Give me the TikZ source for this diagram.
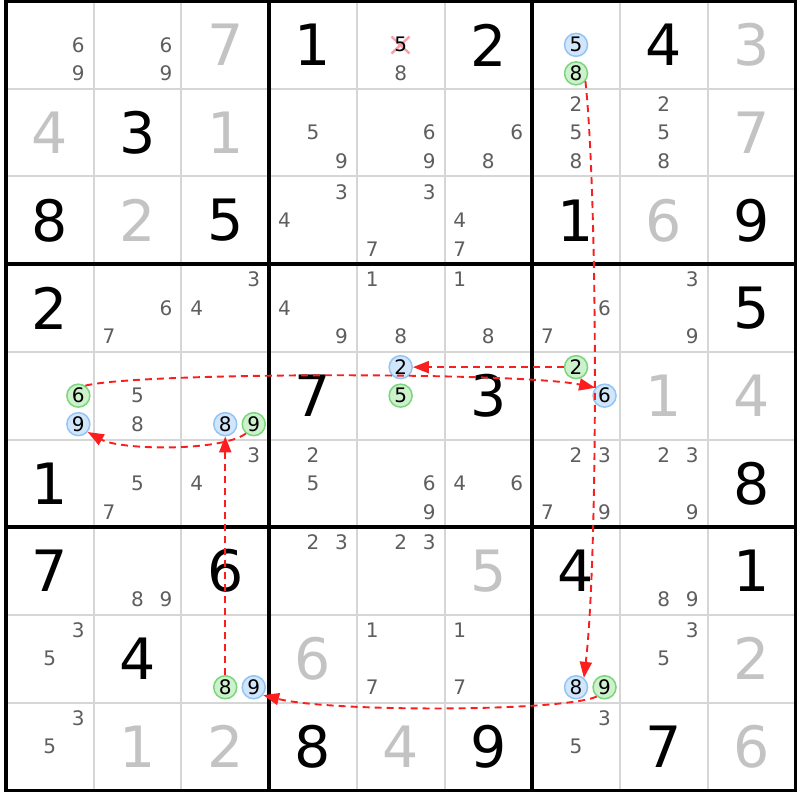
\documentclass[tikz,border=0pt]{standalone}
\usepackage{fontspec}
\setmainfont{DejaVu Sans}
\usetikzlibrary{arrows.meta}
\definecolor{solid}{HTML}{000000}
\definecolor{pale}{HTML}{C3C3C3}
\definecolor{candgray}{HTML}{5E5E5E}
\definecolor{gridgray}{HTML}{D6D6D6}
\definecolor{linkred}{HTML}{FA1E1E}
\definecolor{bluefill}{HTML}{D2E6FB}
\definecolor{blueline}{HTML}{92C4F4}
\definecolor{greenfill}{HTML}{CDF0CD}
\definecolor{greenline}{HTML}{7AD67A}
\definecolor{xpink}{HTML}{F4A3AC}
\tikzset{
  thinline/.style={draw=gridgray, line width=2pt},
  thickline/.style={draw=black, line width=3.5pt},
  bigdig/.style={inner sep=0pt, font=\fontsize{57}{57}\selectfont},
  cand/.style={inner sep=0pt, text=candgray, font=\fontsize{20}{20}\selectfont},
  circ/.style={circle, inner sep=0pt, minimum size=23pt, line width=1.5pt, text=black, font=\fontsize{20}{20}\selectfont},
  link/.style={draw=linkred, line width=1.9pt, dash pattern=on 7pt off 5pt, -{Triangle[length=16pt,width=12pt]}}
}
\begin{document}
\begin{tikzpicture}[x=1pt,y=-1pt]
\useasboundingbox (0,0) rectangle (800,800);
\fill[white] (0,0) rectangle (800,800);
% thin grid
\foreach \i in {1,2,4,5,7,8} {
  \draw[thinline] ({6+\i*87.7},1) -- ({6+\i*87.7},790.3);
  \draw[thinline] (6,{1+\i*87.7}) -- (795.3,{1+\i*87.7});
}
% thick grid
\foreach \i in {3,6} {
  \draw[thickline] ({6+\i*87.7},1) -- ({6+\i*87.7},790.3);
  \draw[thickline] (6,{1+\i*87.7}) -- (795.3,{1+\i*87.7});
}
\draw[thickline] (6,1) rectangle (795.3,790.3);
% given / solved digits
\foreach \r/\c/\d/\k in {
  1/3/7/pale, 1/4/1/solid, 1/6/2/solid, 1/8/4/solid, 1/9/3/pale,
  2/1/4/pale, 2/2/3/solid, 2/3/1/pale, 2/9/7/pale,
  3/1/8/solid, 3/2/2/pale, 3/3/5/solid, 3/7/1/solid, 3/8/6/pale, 3/9/9/solid,
  4/1/2/solid, 4/9/5/solid,
  5/4/7/solid, 5/6/3/solid, 5/8/1/pale, 5/9/4/pale,
  6/1/1/solid, 6/9/8/solid,
  7/1/7/solid, 7/3/6/solid, 7/6/5/pale, 7/7/4/solid, 7/9/1/solid,
  8/2/4/solid, 8/4/6/pale, 8/9/2/pale,
  9/2/1/pale, 9/3/2/pale, 9/4/8/solid, 9/5/4/pale, 9/6/9/solid, 9/8/7/solid, 9/9/6/pale} {
  \pgfmathsetmacro\px{6+(\c-0.5)*87.7}
  \pgfmathsetmacro\py{1+(\r-0.5)*87.7}
  \node[bigdig, text=\k] (g-\r-\c) at (\px,\py) {\d};
}
% pencil marks
\foreach \r/\c/\d in {
  1/1/6, 1/1/9, 1/2/6, 1/2/9, 1/5/8,
  2/4/5, 2/4/9, 2/5/6, 2/5/9, 2/6/6, 2/6/8, 2/7/2, 2/7/5, 2/7/8, 2/8/2, 2/8/5, 2/8/8,
  3/4/3, 3/4/4, 3/5/3, 3/5/7, 3/6/4, 3/6/7,
  4/2/6, 4/2/7, 4/3/3, 4/3/4, 4/4/4, 4/4/9, 4/5/1, 4/5/8, 4/6/1, 4/6/8, 4/7/6, 4/7/7, 4/8/3, 4/8/9,
  5/2/5, 5/2/8,
  6/2/5, 6/2/7, 6/3/3, 6/3/4, 6/4/2, 6/4/5, 6/5/6, 6/5/9, 6/6/4, 6/6/6, 6/7/2, 6/7/3, 6/7/7, 6/7/9, 6/8/2, 6/8/3, 6/8/9,
  7/2/8, 7/2/9, 7/4/2, 7/4/3, 7/5/2, 7/5/3, 7/8/8, 7/8/9,
  8/1/3, 8/1/5, 8/5/1, 8/5/7, 8/6/1, 8/6/7, 8/8/3, 8/8/5,
  9/1/3, 9/1/5, 9/7/3, 9/7/5} {
  \pgfmathsetmacro\px{6+(\c-0.5)*87.7+(mod(\d-1,3)-1)*28.5}
  \pgfmathsetmacro\py{1+(\r-0.5)*87.7+(int((\d-1)/3)-1)*28.5}
  \node[cand] (c-\r-\c-\d) at (\px,\py) {\d};
}
% eliminated candidate
\draw[xpink, line width=2.4pt] (391.5,36.5) -- (409.5,53.5);
\draw[xpink, line width=2.4pt] (391.5,53.5) -- (409.5,36.5);
\node[cand, text=black] (c-1-5-5) at (400.65,44.85) {5};
% circled candidates
\foreach \r/\c/\d/\f/\e in {
  1/7/5/bluefill/blueline, 1/7/8/greenfill/greenline,
  5/1/6/greenfill/greenline, 5/1/9/bluefill/blueline,
  5/3/8/bluefill/blueline, 5/3/9/greenfill/greenline,
  5/5/2/bluefill/blueline, 5/5/5/greenfill/greenline,
  5/7/2/greenfill/greenline, 5/7/6/bluefill/blueline,
  8/3/8/greenfill/greenline, 8/3/9/bluefill/blueline,
  8/7/8/bluefill/blueline, 8/7/9/greenfill/greenline} {
  \pgfmathsetmacro\px{6+(\c-0.5)*87.7+(mod(\d-1,3)-1)*28.5}
  \pgfmathsetmacro\py{1+(\r-0.5)*87.7+(int((\d-1)/3)-1)*28.5}
  \node[circ, fill=\f, draw=\e] (n-\r-\c-\d) at (\px,\py) {\d};
}
% links
\draw[link] (n-1-7-8.-40) .. controls (598,200) and (598,560) .. (n-8-7-8.50);
\draw[link] (n-5-7-2.west) -- (n-5-5-2.east);
\draw[link] (n-5-1-6.55) .. controls (140,372) and (520,372) .. (n-5-7-6.140);
\draw[link] (n-5-3-9.-130) .. controls (220,452) and (120,450) .. (n-5-1-9.-40);
\draw[link] (n-8-3-8.north) -- (n-5-3-8.south);
\draw[link] (n-8-7-9.-130) .. controls (560,712) and (330,712) .. (n-8-3-9.-40);
\end{tikzpicture}
\end{document}
